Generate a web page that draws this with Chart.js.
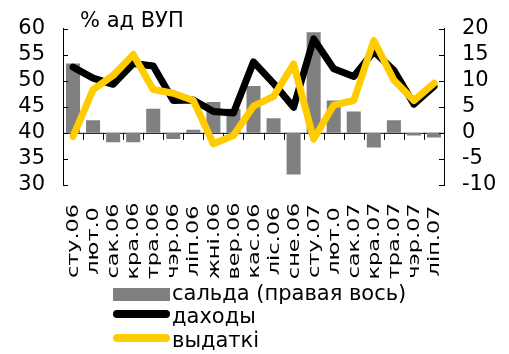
<!DOCTYPE html>
<html>
<head>
<meta charset="utf-8">
<script src="https://cdn.jsdelivr.net/npm/chart.js"></script>
<style>
  body { margin: 0; background: #fff; }
  #wrap { width: 509px; height: 354px; }
</style>
</head>
<body>
<div id="wrap"><canvas id="c" width="509" height="354"></canvas></div>
<script>
// months (labels as printed on the chart)
const months = ['сту.06', 'лют.0', 'сак.06', 'кра.06', 'тра.06', 'чэр.06', 'ліп.06', 'жні.06', 'вер.06',
  'кас.06', 'ліс.06', 'сне.06', 'сту.07', 'лют.0', 'сак.07', 'кра.07', 'тра.07', 'чэр.07', 'ліп.07'];

// balance, right axis
const saldo = [13.3, 2.4, -1.8, -1.8, 4.6, -1.2, 0.6, 5.9, 4.6, 9.0, 2.8, -8.0, 19.3, 6.2, 4.1, -2.8, 2.4, -0.5, -0.9];
// revenue, left axis
const dakhody = [52.6, 50.5, 49.3, 53.3, 52.8, 46.2, 46.3, 44.1, 43.8, 53.6, 49.5, 44.9, 58.0, 52.3, 50.8, 55.6, 52.0, 45.5, 48.9];
// expenditure, left axis
const vydatki = [39.3, 48.3, 51.0, 55.0, 48.3, 47.6, 46.2, 37.9, 39.5, 45.1, 47.0, 53.2, 38.8, 45.3, 46.2, 57.7, 50.1, 46.2, 49.5];

const leftTicks = { min: 30, max: 60, step: 5 };
const rightTicks = { min: -10, max: 20, step: 5 };

const FONT = 'DejaVu Sans';

const decor = {
  id: 'decor',
  beforeDatasetsDraw(chart) {
    const { ctx, chartArea } = chart;
    const xs = chart.scales.x;
    const y0 = chart.scales.y2.getPixelForValue(0);
    ctx.save();
    ctx.strokeStyle = '#000';
    ctx.lineWidth = 1;
    ctx.beginPath();
    ctx.moveTo(chartArea.left, y0 + 0.5);
    ctx.lineTo(chartArea.right, y0 + 0.5);
    for (let i = 1; i < months.length; i++) {
      const x = Math.round((xs.getPixelForTick(i - 1) + xs.getPixelForTick(i)) / 2) + 0.5;
      ctx.moveTo(x, y0);
      ctx.lineTo(x, y0 + 7);
    }
    ctx.stroke();
    ctx.restore();
  },
  afterDraw(chart) {
    const { ctx, chartArea } = chart;
    const xs = chart.scales.x;
    ctx.save();
    ctx.strokeStyle = '#000';
    ctx.lineWidth = 1;
    // inner tick marks on both value axes
    ctx.beginPath();
    chart.scales.y.ticks.forEach(t => {
      const y = Math.round(chart.scales.y.getPixelForValue(t.value)) + 0.5;
      ctx.moveTo(chartArea.left, y);
      ctx.lineTo(chartArea.left + 5, y);
    });
    chart.scales.y2.ticks.forEach(t => {
      const y = Math.round(chart.scales.y2.getPixelForValue(t.value)) + 0.5;
      ctx.moveTo(chartArea.right - 5, y);
      ctx.lineTo(chartArea.right, y);
    });
    ctx.stroke();

    ctx.fillStyle = '#000';
    // unit title
    ctx.font = '21px ' + FONT;
    ctx.textBaseline = 'middle';
    ctx.textAlign = 'left';
    ctx.fillText('% ад ВУП', 80, 22);

    // month labels, vertical
    ctx.font = '16px ' + FONT;
    ctx.textAlign = 'center';
    months.forEach((m, i) => {
      ctx.save();
      ctx.translate(xs.getPixelForTick(i) + 1, 241);
      ctx.rotate(-Math.PI / 2);
      ctx.scale(1.4, 1);
      ctx.fillText(m, 0, 0);
      ctx.restore();
    });

    // legend, one item per row
    const rows = [295, 318, 342];
    ctx.font = '21px ' + FONT;
    ctx.textAlign = 'left';
    chart.data.datasets.forEach((ds, i) => {
      const y = rows[i];
      if (ds.type === 'bar') {
        ctx.fillStyle = ds.backgroundColor;
        ctx.fillRect(113, y - 7, 57, 13);
      } else {
        ctx.strokeStyle = ds.borderColor;
        ctx.lineWidth = 8;
        ctx.lineCap = 'round';
        ctx.beginPath();
        ctx.moveTo(117, y - 4);
        ctx.lineTo(166, y - 4);
        ctx.stroke();
      }
      ctx.fillStyle = '#000';
      ctx.fillText(ds.label, 172, y);
    });
    ctx.restore();
  }
};

new Chart(document.getElementById('c'), {
  data: {
    labels: months,
    datasets: [
      { type: 'bar', label: 'сальда (правая вось)', data: saldo, yAxisID: 'y2', backgroundColor: '#808080',
        barPercentage: 0.7, categoryPercentage: 1, order: 3 },
      { type: 'line', label: 'даходы', data: dakhody, yAxisID: 'y', borderColor: '#000000', borderWidth: 7,
        pointRadius: 0, tension: 0, borderJoinStyle: 'round', borderCapStyle: 'round', order: 2 },
      { type: 'line', label: 'выдаткі', data: vydatki, yAxisID: 'y', borderColor: '#FFCC00', borderWidth: 7,
        pointRadius: 0, tension: 0, borderJoinStyle: 'round', borderCapStyle: 'round', order: 1 }
    ]
  },
  options: {
    responsive: false,
    animation: false,
    layout: { padding: { top: 21, left: 0, right: 0, bottom: 0 } },
    plugins: { legend: { display: false }, tooltip: { enabled: false } },
    scales: {
      x: {
        offset: true,
        grid: { display: false, drawTicks: false },
        border: { display: false },
        ticks: { display: false },
        afterFit: s => { s.height = 169; }
      },
      y: {
        position: 'left',
        min: leftTicks.min, max: leftTicks.max,
        ticks: { stepSize: leftTicks.step, autoSkip: false, padding: 18, color: '#000',
          font: { family: FONT, size: 21, lineHeight: 1 } },
        grid: { display: false, drawTicks: false },
        border: { display: true, color: '#000', width: 1 },
        afterFit: s => { s.width = 63; }
      },
      y2: {
        position: 'right',
        min: rightTicks.min, max: rightTicks.max,
        ticks: { stepSize: rightTicks.step, autoSkip: false, padding: 18, color: '#000',
          font: { family: FONT, size: 21, lineHeight: 1 } },
        grid: { display: false, drawTicks: false },
        border: { display: true, color: '#000', width: 1 },
        afterFit: s => { s.width = 65; }
      }
    }
  },
  plugins: [decor]
});
</script>
</body>
</html>
